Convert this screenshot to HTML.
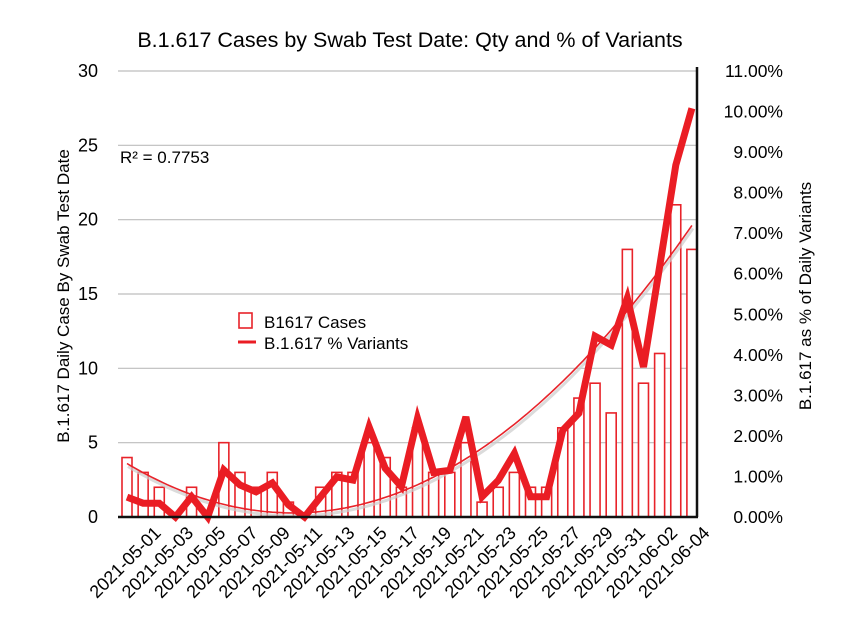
<!DOCTYPE html>
<html><head><meta charset="utf-8"><style>
body{margin:0;background:#fff;}
svg{display:block;font-family:"Liberation Sans",Arial,sans-serif;}
</style></head><body>
<svg id="c" width="847" height="641"></svg>
<script>
const categories=[];
(function(){const d0=Date.UTC(2021,4,1);for(let i=0;i<36;i++){const d=new Date(d0+i*864e5);categories.push(d.toISOString().slice(0,10));}})();
const caseValues=[4,3,2,0,2,0,5,3,2,3,1,0,2,3,3,5,4,2,6,3,3,5,1,2,3,2,2,6,8,9,7,18,9,11,21,18];
const pctValues=[0.49,0.34,0.34,0,0.5,0,1.16,0.79,0.62,0.84,0.3,0,0.5,0.99,0.91,2.22,1.2,0.75,2.43,1.1,1.15,2.47,0.5,0.9,1.57,0.5,0.5,2.14,2.56,4.46,4.24,5.4,3.7,6.17,8.68,10.08];
const leftTicks=[0,5,10,15,20,25,30];
const rightTicks=[0,1,2,3,4,5,6,7,8,9,10,11];
const NS="http://www.w3.org/2000/svg",svg=document.getElementById('c');
const X0=127,DX=16.14,Y0=517,YT=71,XL=118,XR=697;
const x=i=>X0+i*DX, yL=v=>Y0-(Y0-YT)*v/30, yR=v=>Y0-(Y0-YT)*v/11;
function el(t,a,txt){const e=document.createElementNS(NS,t);for(const k in a)e.setAttribute(k,a[k]);if(txt!=null)e.textContent=txt;svg.appendChild(e);return e;}
let e;
e=el('text',{x:410,y:47,'text-anchor':'middle','font-size':21.5},'B.1.617 Cases by Swab Test Date: Qty and % of Variants');

leftTicks.forEach(v=>{
 if(v>0){e=el('line',{x1:XL,x2:XR,y1:yL(v),y2:yL(v),stroke:'#bdbdbd','stroke-width':1.2});
 }
 e=el('text',{x:98,y:yL(v)+6,'text-anchor':'end','font-size':18},String(v));
 
});
rightTicks.forEach(v=>{
 e=el('text',{x:783,y:yR(v)+6,'text-anchor':'end','font-size':17.5},v.toFixed(2)+'%');
 
});
caseValues.forEach((v,i)=>{
 e=el('rect',{x:x(i)-5,y:yL(v),width:10,height:Y0-yL(v),fill:'#fff',stroke:'#e8232a','stroke-width':1.6});
 
});
(function(){
 let S=[0,0,0,0,0],T=[0,0,0];
 pctValues.forEach((v,i)=>{for(let p=0;p<5;p++)S[p]+=Math.pow(i,p);for(let p=0;p<3;p++)T[p]+=v*Math.pow(i,p);});
 const M=[[S[0],S[1],S[2],T[0]],[S[1],S[2],S[3],T[1]],[S[2],S[3],S[4],T[2]]];
 for(let c=0;c<3;c++){for(let r=c+1;r<3;r++){const f=M[r][c]/M[c][c];for(let k=c;k<4;k++)M[r][k]-=f*M[c][k];}}
 const co=[0,0,0];for(let r=2;r>=0;r--){let s=M[r][3];for(let k=r+1;k<3;k++)s-=M[r][k]*co[k];co[r]=s/M[r][r];}
 let d='';for(let t=0;t<=35;t+=0.25){const v=co[0]+co[1]*t+co[2]*t*t;d+=(t?'L':'M')+x(t).toFixed(1)+','+yR(v).toFixed(1);}
 e=el('path',{d:d,fill:'none',stroke:'#ccc','stroke-width':3,transform:'translate(1,3)',opacity:0.7});
 
 e=el('path',{d:d,fill:'none',stroke:'#e8232a','stroke-width':1.6});
 
})();
e=el('path',{d:pctValues.map((v,i)=>(i?'L':'M')+x(i).toFixed(1)+','+yR(v).toFixed(1)).join(''),fill:'none',stroke:'#ea1d24','stroke-width':7,'stroke-linejoin':'miter','stroke-miterlimit':4});

e=el('line',{x1:XL,x2:XR+1,y1:Y0,y2:Y0,stroke:'#111','stroke-width':2.5});

e=el('line',{x1:XR,x2:XR,y1:YT-4,y2:Y0,stroke:'#111','stroke-width':2.5});

categories.forEach((c,i)=>{if(i%2)return;
 const tx=x(i)+35,ty=534;
 e=el('text',{x:tx,y:ty,'text-anchor':'end','font-size':18,transform:'rotate(-45 '+tx+' '+ty+')'},c);
 
});
e=el('text',{x:120,y:163,'font-size':17},'R² = 0.7753');

e=el('text',{x:0,y:0,'text-anchor':'middle','font-size':17,transform:'translate(69,296) rotate(-90)'},'B.1.617 Daily Case By Swab Test Date');

e=el('text',{x:0,y:0,'text-anchor':'middle','font-size':17,transform:'translate(811,296) rotate(-90)'},'B.1.617 as % of Daily Variants');

e=el('rect',{x:239,y:313,width:13,height:15,fill:'#fff',stroke:'#e8232a','stroke-width':1.6});

e=el('text',{x:264,y:328,'font-size':17},'B1617 Cases');

e=el('line',{x1:238,x2:256,y1:342,y2:342,stroke:'#ea1d24','stroke-width':3});

e=el('text',{x:264,y:349,'font-size':17},'B.1.617 % Variants');

</script>
</body></html>
